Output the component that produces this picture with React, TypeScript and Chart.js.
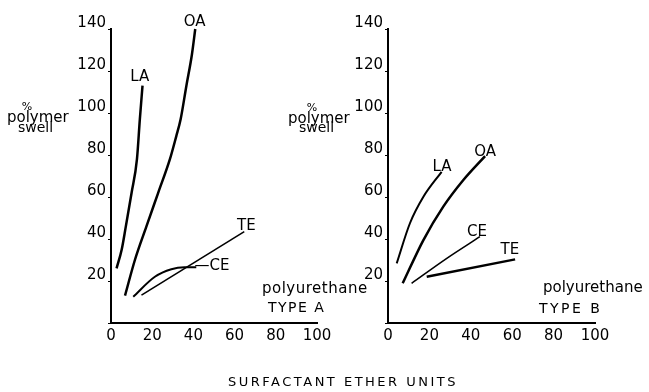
import React, { useEffect, useRef } from 'react';
import { Chart, registerables } from 'chart.js';

Chart.register(...registerables);

const FONT = '"DejaVu Sans", "Liberation Sans", sans-serif';

const xTickValues = [0, 20, 40, 60, 80, 100];
const yTickValues = [0, 20, 40, 60, 80, 100, 120, 140];

// Polyurethane TYPE A
const aLA_x = [2.7, 5.2, 7.2, 10, 12.6, 14, 15.3];
const aLA_y = [26, 35, 46, 62, 78, 97, 113];
const aOA_x = [6.8, 11.6, 17.2, 22.9, 28.6, 31.7, 33.8, 36.6, 39.3, 40.9];
const aOA_y = [13, 30, 46, 62, 78, 89, 97, 113, 128, 140];
const aCE_x = [10.8, 21.3, 29.3, 35.7, 41.4];
const aCE_y = [12.5, 22, 25.6, 26.5, 26.5];
const aTE_x = [14.8, 64.7];
const aTE_y = [13.3, 43.5];

// Polyurethane TYPE B
const bLA_x = [4.2, 10.6, 17.1, 25.9];
const bLA_y = [28.4, 47.5, 60.1, 72];
const bOA_x = [7.1, 17.1, 26.7, 36.4, 46.9];
const bOA_y = [18.9, 39.5, 55.4, 68.1, 79.5];
const bCE_x = [11.4, 28.4, 44.4];
const bCE_y = [18.9, 30.8, 41.1];
const bTE_x = [18.7, 61.4];
const bTE_y = [22, 30.3];

const pts = (xs: number[], ys: number[]) => xs.map((x, i) => ({ x, y: ys[i] }));

type Label = {
  text: string;
  size: number;
  ls?: number;
  align?: CanvasTextAlign;
  baseline?: CanvasTextBaseline;
  vx?: number;
  vy?: number;
  px?: number;
  py?: number;
};

const textPlugin = (id: string, items: Label[]) => ({
  id,
  afterDraw(chart: any) {
    const ctx = chart.ctx as CanvasRenderingContext2D;
    ctx.save();
    ctx.fillStyle = '#000';
    for (const t of items) {
      ctx.font = `${t.size}px ${FONT}`;
      ctx.textAlign = t.align || 'center';
      ctx.textBaseline = t.baseline || 'middle';
      (ctx as any).letterSpacing = `${t.ls || 0}px`;
      let x: number;
      let y: number;
      if (t.vx !== undefined && t.vy !== undefined) {
        x = chart.scales.x.getPixelForValue(t.vx);
        y = chart.scales.y.getPixelForValue(t.vy);
      } else {
        x = t.px as number;
        y = t.py as number;
      }
      ctx.fillText(t.text, x, y);
    }
    ctx.restore();
  },
});

const ds = (xs: number[], ys: number[], w: number) => ({
  data: pts(xs, ys),
  borderColor: '#000',
  borderWidth: w,
  pointRadius: 0,
  fill: false,
  cubicInterpolationMode: 'monotone' as const,
  clip: false as const,
});

function makeConfig(datasets: any[], yWidth: number, padRight: number, labels: Label[], id: string): any {
  return {
    type: 'line',
    data: { datasets },
    options: {
      responsive: false,
      animation: false,
      layout: { padding: { top: 29, right: padRight, bottom: 0, left: 0 } },
      plugins: { legend: { display: false }, tooltip: { enabled: false } },
      scales: {
        x: {
          type: 'linear',
          min: 0,
          max: 100,
          afterBuildTicks: (s: any) => {
            s.ticks = xTickValues.map((v) => ({ value: v }));
          },
          afterFit: (s: any) => {
            s.height = 69;
          },
          grid: { display: false, drawTicks: false },
          border: { display: true, color: '#000', width: 2 },
          ticks: {
            color: '#000',
            font: { family: FONT, size: 15 },
            padding: 4,
            maxRotation: 0,
            autoSkip: false,
          },
        },
        y: {
          type: 'linear',
          min: 0,
          max: 140,
          afterBuildTicks: (s: any) => {
            s.ticks = yTickValues.map((v) => ({ value: v }));
          },
          afterFit: (s: any) => {
            s.width = yWidth;
          },
          grid: { display: true, drawOnChartArea: false, drawTicks: true, tickLength: 3, color: '#000', lineWidth: 1 },
          border: { display: true, color: '#000', width: 2 },
          ticks: {
            color: '#000',
            font: { family: FONT, size: 15 },
            padding: 2,
            labelOffset: -6,
            autoSkip: false,
            callback: (v: any) => (Number(v) === 0 ? '' : String(v)),
          },
        },
      },
    },
    plugins: [textPlugin(id, labels)],
  };
}

const leftLabels: Label[] = [
  { text: 'LA', size: 15, vx: 14.0, vy: 117 },
  { text: 'OA', size: 15, vx: 40.6, vy: 143.3 },
  { text: '\u2014CE', size: 15, align: 'left', vx: 40.5, vy: 27 },
  { text: 'TE', size: 15, vx: 65.7, vy: 46.2 },
  { text: '%', size: 11, px: 27, py: 107 },
  { text: 'polymer', size: 15, align: 'left', baseline: 'alphabetic', px: 7, py: 122 },
  { text: 'swell', size: 14, align: 'left', baseline: 'alphabetic', px: 18, py: 132 },
  { text: 'polyurethane', size: 15, ls: 0.5, align: 'left', baseline: 'alphabetic', px: 262, py: 293 },
  { text: 'TYPE A', size: 14, ls: 1.5, align: 'left', baseline: 'alphabetic', px: 268, py: 312 },
  { text: 'SURFACTANT ETHER UNITS', size: 13, ls: 2.5, px: 343, py: 383 },
];

const rightLabels: Label[] = [
  { text: 'LA', size: 15, vx: 26.1, vy: 74.3 },
  { text: 'OA', size: 15, vx: 46.9, vy: 81.4 },
  { text: 'CE', size: 15, vx: 43, vy: 43.3 },
  { text: 'TE', size: 15, vx: 58.9, vy: 34.8 },
  { text: '%', size: 11, px: 312, py: 108 },
  { text: 'polymer', size: 15, align: 'left', baseline: 'alphabetic', px: 288, py: 123 },
  { text: 'swell', size: 14, align: 'left', baseline: 'alphabetic', px: 299, py: 132 },
  { text: 'polyurethane', size: 15, align: 'left', baseline: 'alphabetic', px: 543, py: 292 },
  { text: 'TYPE B', size: 14, ls: 2.5, align: 'left', baseline: 'alphabetic', px: 539, py: 313 },
];

export default function App() {
  const leftRef = useRef<HTMLCanvasElement>(null);
  const rightRef = useRef<HTMLCanvasElement>(null);

  useEffect(() => {
    const left = new Chart(
      leftRef.current as HTMLCanvasElement,
      makeConfig(
        [ds(aLA_x, aLA_y, 2.5), ds(aOA_x, aOA_y, 2.5), ds(aCE_x, aCE_y, 2), ds(aTE_x, aTE_y, 1.6)],
        111,
        649 - 317,
        leftLabels,
        'leftText'
      )
    );
    const right = new Chart(
      rightRef.current as HTMLCanvasElement,
      makeConfig(
        [ds(bLA_x, bLA_y, 2), ds(bOA_x, bOA_y, 2.5), ds(bCE_x, bCE_y, 1.6), ds(bTE_x, bTE_y, 2.5)],
        388,
        649 - 595,
        rightLabels,
        'rightText'
      )
    );
    return () => {
      left.destroy();
      right.destroy();
    };
  }, []);

  return (
    <div style={{ position: 'fixed', left: 0, top: 0, width: 649, height: 392, background: '#fff' }}>
      <canvas ref={leftRef} width={649} height={392} style={{ position: 'absolute', left: 0, top: 0 }} />
      <canvas ref={rightRef} width={649} height={392} style={{ position: 'absolute', left: 0, top: 0 }} />
    </div>
  );
}
